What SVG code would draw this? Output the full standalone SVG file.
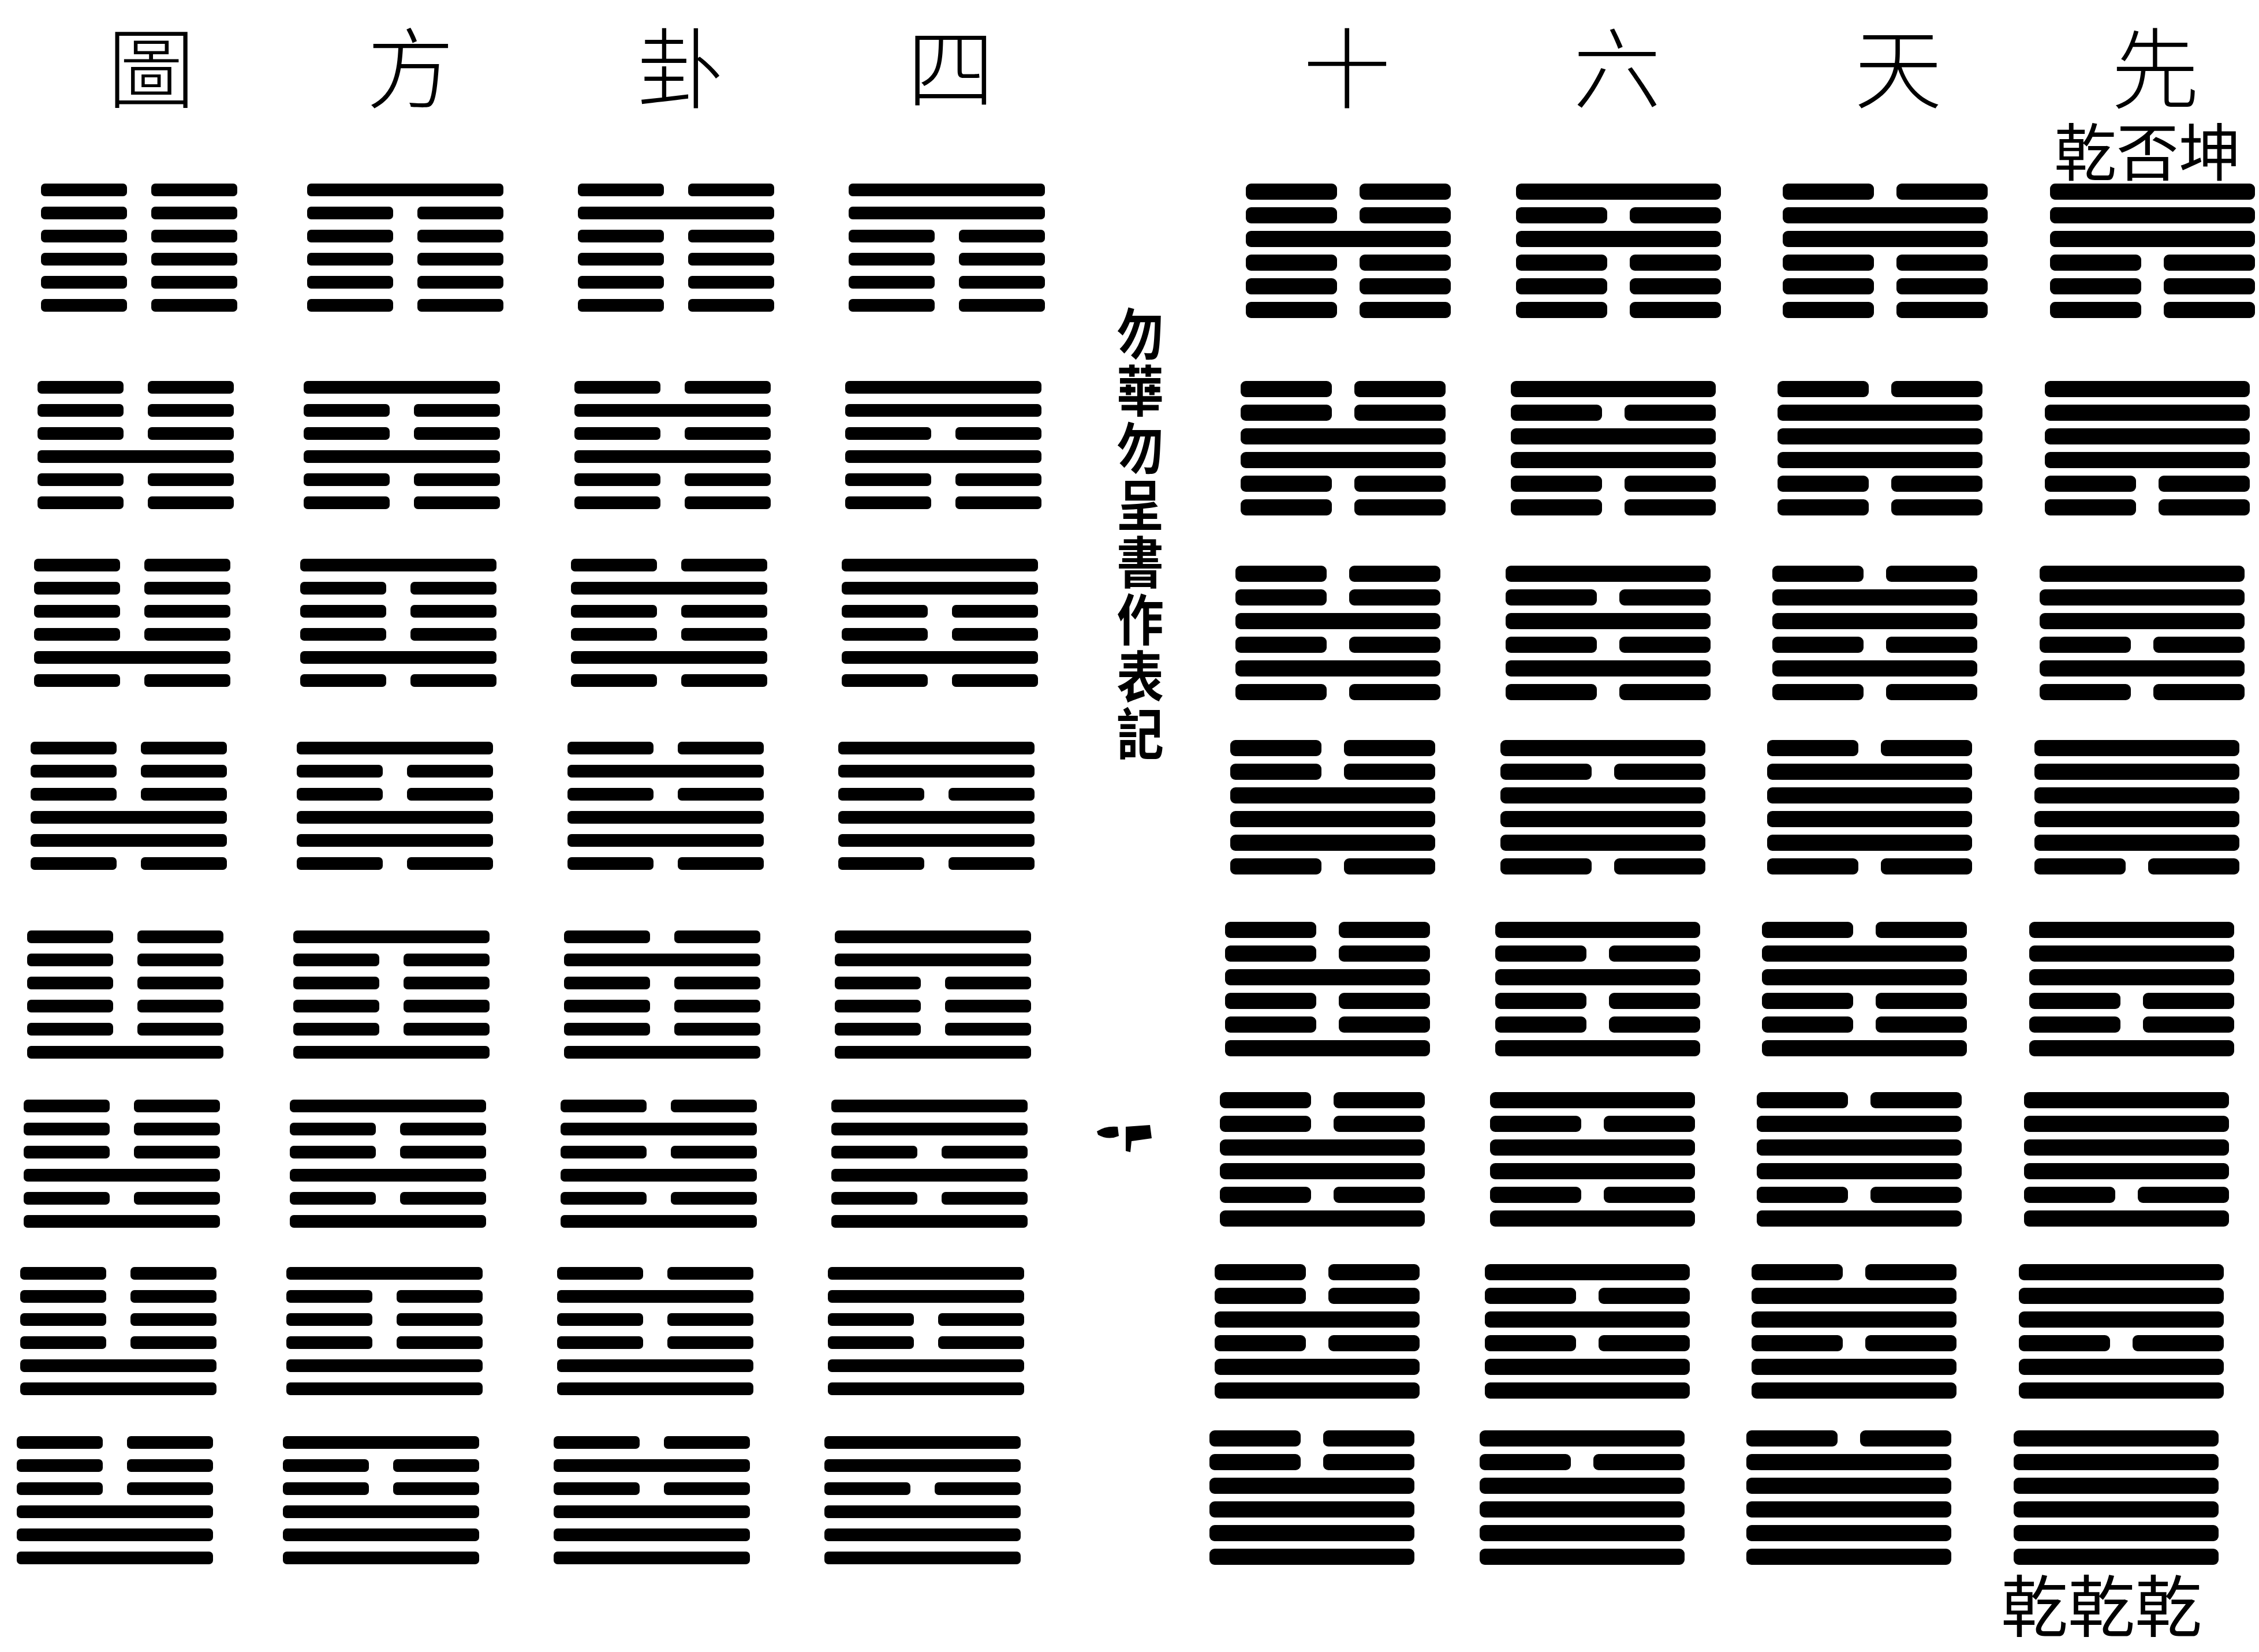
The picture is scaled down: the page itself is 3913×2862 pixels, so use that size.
<svg xmlns="http://www.w3.org/2000/svg" width="3913" height="2862" viewBox="0 0 3913 2862">
<style>
rect,path{fill:#000}
.t{font-family:"Noto Sans CJK TC","Noto Sans CJK SC",sans-serif;font-size:152px;font-weight:300;text-anchor:middle;fill:#000}
.n{font-family:"Noto Sans CJK TC","Noto Sans CJK SC",sans-serif;font-size:108px;font-weight:400;text-anchor:middle;fill:#000}
.v{font-family:"Noto Sans CJK TC","Noto Sans CJK SC",sans-serif;font-size:96px;font-weight:700;writing-mode:vertical-rl;letter-spacing:3px;fill:#000}
</style>
<defs>
<rect id="ly" width="340" height="22" rx="7"/>
<g id="ln"><rect width="149" height="22" rx="7"/><rect x="191" width="149" height="22" rx="7"/></g>
<g id="Lkun"><use href="#ln"/><use href="#ln" y="40"/><use href="#ln" y="80"/></g>
<g id="Lgen"><use href="#ly"/><use href="#ln" y="40"/><use href="#ln" y="80"/></g>
<g id="Lkan"><use href="#ln"/><use href="#ly" y="40"/><use href="#ln" y="80"/></g>
<g id="Lxun"><use href="#ly"/><use href="#ly" y="40"/><use href="#ln" y="80"/></g>
<g id="Lzhen"><use href="#ln"/><use href="#ln" y="40"/><use href="#ly" y="80"/></g>
<g id="Lli"><use href="#ly"/><use href="#ln" y="40"/><use href="#ly" y="80"/></g>
<g id="Ldui"><use href="#ln"/><use href="#ly" y="40"/><use href="#ly" y="80"/></g>
<g id="Lqian"><use href="#ly"/><use href="#ly" y="40"/><use href="#ly" y="80"/></g>
<rect id="ry" width="355" height="28" rx="9"/>
<g id="rn"><rect width="158" height="28" rx="9"/><rect x="197" width="158" height="28" rx="9"/></g>
<g id="Rkun"><use href="#rn"/><use href="#rn" y="41"/><use href="#rn" y="82"/></g>
<g id="Rgen"><use href="#ry"/><use href="#rn" y="41"/><use href="#rn" y="82"/></g>
<g id="Rkan"><use href="#rn"/><use href="#ry" y="41"/><use href="#rn" y="82"/></g>
<g id="Rxun"><use href="#ry"/><use href="#ry" y="41"/><use href="#rn" y="82"/></g>
<g id="Rzhen"><use href="#rn"/><use href="#rn" y="41"/><use href="#ry" y="82"/></g>
<g id="Rli"><use href="#ry"/><use href="#rn" y="41"/><use href="#ry" y="82"/></g>
<g id="Rdui"><use href="#rn"/><use href="#ry" y="41"/><use href="#ry" y="82"/></g>
<g id="Rqian"><use href="#ry"/><use href="#ry" y="41"/><use href="#ry" y="82"/></g>
</defs>
<rect width="3913" height="2862" style="fill:#fff"/>
<g id="title">
<text class="t" x="262" y="176">圖</text>
<text class="t" x="711" y="176">方</text>
<text class="t" x="1179" y="176">卦</text>
<text class="t" x="1647" y="176">四</text>
<text class="t" x="2333" y="176">十</text>
<text class="t" x="2801" y="176">六</text>
<text class="t" x="3288" y="176">天</text>
<text class="t" x="3733" y="176">先</text>
</g>
<g id="note-top"><text class="n" x="3720" y="304">乾否坤</text></g>
<g id="note-bottom"><text class="n" x="3640" y="2826" style="font-size:116px">乾乾乾</text></g>
<g id="note-vertical">
<text class="v" transform="translate(1975,530) scale(0.85,1)" x="0" y="0">勿華勿呈書作表記</text>
</g>
<g id="marks"><path d="M1900 1960 Q1915 1950 1936 1952 L1938 1968 Q1920 1976 1902 1966 Z"/><path d="M1950 1952 L1992 1949 L1995 1972 L1960 1977 L1958 1996 L1950 1994 Z"/></g>
<g id="connectors"></g>
<g id="left-block">
<g id="hex-r1-c1" transform="translate(71,318)"><use href="#Lkun"/><use href="#Lkun" y="120"/></g>
<g id="hex-r1-c2" transform="translate(532,318)"><use href="#Lgen"/><use href="#Lkun" y="120"/></g>
<g id="hex-r1-c3" transform="translate(1001,318)"><use href="#Lkan"/><use href="#Lkun" y="120"/></g>
<g id="hex-r1-c4" transform="translate(1470,318)"><use href="#Lxun"/><use href="#Lkun" y="120"/></g>
<g id="hex-r2-c1" transform="translate(65,660)"><use href="#Lkun"/><use href="#Lgen" y="120"/></g>
<g id="hex-r2-c2" transform="translate(526,660)"><use href="#Lgen"/><use href="#Lgen" y="120"/></g>
<g id="hex-r2-c3" transform="translate(995,660)"><use href="#Lkan"/><use href="#Lgen" y="120"/></g>
<g id="hex-r2-c4" transform="translate(1464,660)"><use href="#Lxun"/><use href="#Lgen" y="120"/></g>
<g id="hex-r3-c1" transform="translate(59,968)"><use href="#Lkun"/><use href="#Lkan" y="120"/></g>
<g id="hex-r3-c2" transform="translate(520,968)"><use href="#Lgen"/><use href="#Lkan" y="120"/></g>
<g id="hex-r3-c3" transform="translate(989,968)"><use href="#Lkan"/><use href="#Lkan" y="120"/></g>
<g id="hex-r3-c4" transform="translate(1458,968)"><use href="#Lxun"/><use href="#Lkan" y="120"/></g>
<g id="hex-r4-c1" transform="translate(53,1285)"><use href="#Lkun"/><use href="#Lxun" y="120"/></g>
<g id="hex-r4-c2" transform="translate(514,1285)"><use href="#Lgen"/><use href="#Lxun" y="120"/></g>
<g id="hex-r4-c3" transform="translate(983,1285)"><use href="#Lkan"/><use href="#Lxun" y="120"/></g>
<g id="hex-r4-c4" transform="translate(1452,1285)"><use href="#Lxun"/><use href="#Lxun" y="120"/></g>
<g id="hex-r5-c1" transform="translate(47,1612)"><use href="#Lkun"/><use href="#Lzhen" y="120"/></g>
<g id="hex-r5-c2" transform="translate(508,1612)"><use href="#Lgen"/><use href="#Lzhen" y="120"/></g>
<g id="hex-r5-c3" transform="translate(977,1612)"><use href="#Lkan"/><use href="#Lzhen" y="120"/></g>
<g id="hex-r5-c4" transform="translate(1446,1612)"><use href="#Lxun"/><use href="#Lzhen" y="120"/></g>
<g id="hex-r6-c1" transform="translate(41,1905)"><use href="#Lkun"/><use href="#Lli" y="120"/></g>
<g id="hex-r6-c2" transform="translate(502,1905)"><use href="#Lgen"/><use href="#Lli" y="120"/></g>
<g id="hex-r6-c3" transform="translate(971,1905)"><use href="#Lkan"/><use href="#Lli" y="120"/></g>
<g id="hex-r6-c4" transform="translate(1440,1905)"><use href="#Lxun"/><use href="#Lli" y="120"/></g>
<g id="hex-r7-c1" transform="translate(35,2195)"><use href="#Lkun"/><use href="#Ldui" y="120"/></g>
<g id="hex-r7-c2" transform="translate(496,2195)"><use href="#Lgen"/><use href="#Ldui" y="120"/></g>
<g id="hex-r7-c3" transform="translate(965,2195)"><use href="#Lkan"/><use href="#Ldui" y="120"/></g>
<g id="hex-r7-c4" transform="translate(1434,2195)"><use href="#Lxun"/><use href="#Ldui" y="120"/></g>
<g id="hex-r8-c1" transform="translate(29,2488)"><use href="#Lkun"/><use href="#Lqian" y="120"/></g>
<g id="hex-r8-c2" transform="translate(490,2488)"><use href="#Lgen"/><use href="#Lqian" y="120"/></g>
<g id="hex-r8-c3" transform="translate(959,2488)"><use href="#Lkan"/><use href="#Lqian" y="120"/></g>
<g id="hex-r8-c4" transform="translate(1428,2488)"><use href="#Lxun"/><use href="#Lqian" y="120"/></g>
</g>
<g id="right-block">
<g id="hex-r1-c5" transform="translate(2158,318)"><use href="#Rzhen"/><use href="#Rkun" y="123"/></g>
<g id="hex-r1-c6" transform="translate(2626,318)"><use href="#Rli"/><use href="#Rkun" y="123"/></g>
<g id="hex-r1-c7" transform="translate(3088,318)"><use href="#Rdui"/><use href="#Rkun" y="123"/></g>
<g id="hex-r1-c8" transform="translate(3551,318)"><use href="#Rqian"/><use href="#Rkun" y="123"/></g>
<g id="hex-r2-c5" transform="translate(2149,660)"><use href="#Rzhen"/><use href="#Rgen" y="123"/></g>
<g id="hex-r2-c6" transform="translate(2617,660)"><use href="#Rli"/><use href="#Rgen" y="123"/></g>
<g id="hex-r2-c7" transform="translate(3079,660)"><use href="#Rdui"/><use href="#Rgen" y="123"/></g>
<g id="hex-r2-c8" transform="translate(3542,660)"><use href="#Rqian"/><use href="#Rgen" y="123"/></g>
<g id="hex-r3-c5" transform="translate(2140,980)"><use href="#Rzhen"/><use href="#Rkan" y="123"/></g>
<g id="hex-r3-c6" transform="translate(2608,980)"><use href="#Rli"/><use href="#Rkan" y="123"/></g>
<g id="hex-r3-c7" transform="translate(3070,980)"><use href="#Rdui"/><use href="#Rkan" y="123"/></g>
<g id="hex-r3-c8" transform="translate(3533,980)"><use href="#Rqian"/><use href="#Rkan" y="123"/></g>
<g id="hex-r4-c5" transform="translate(2131,1282)"><use href="#Rzhen"/><use href="#Rxun" y="123"/></g>
<g id="hex-r4-c6" transform="translate(2599,1282)"><use href="#Rli"/><use href="#Rxun" y="123"/></g>
<g id="hex-r4-c7" transform="translate(3061,1282)"><use href="#Rdui"/><use href="#Rxun" y="123"/></g>
<g id="hex-r4-c8" transform="translate(3524,1282)"><use href="#Rqian"/><use href="#Rxun" y="123"/></g>
<g id="hex-r5-c5" transform="translate(2122,1597)"><use href="#Rzhen"/><use href="#Rzhen" y="123"/></g>
<g id="hex-r5-c6" transform="translate(2590,1597)"><use href="#Rli"/><use href="#Rzhen" y="123"/></g>
<g id="hex-r5-c7" transform="translate(3052,1597)"><use href="#Rdui"/><use href="#Rzhen" y="123"/></g>
<g id="hex-r5-c8" transform="translate(3515,1597)"><use href="#Rqian"/><use href="#Rzhen" y="123"/></g>
<g id="hex-r6-c5" transform="translate(2113,1892)"><use href="#Rzhen"/><use href="#Rli" y="123"/></g>
<g id="hex-r6-c6" transform="translate(2581,1892)"><use href="#Rli"/><use href="#Rli" y="123"/></g>
<g id="hex-r6-c7" transform="translate(3043,1892)"><use href="#Rdui"/><use href="#Rli" y="123"/></g>
<g id="hex-r6-c8" transform="translate(3506,1892)"><use href="#Rqian"/><use href="#Rli" y="123"/></g>
<g id="hex-r7-c5" transform="translate(2104,2190)"><use href="#Rzhen"/><use href="#Rdui" y="123"/></g>
<g id="hex-r7-c6" transform="translate(2572,2190)"><use href="#Rli"/><use href="#Rdui" y="123"/></g>
<g id="hex-r7-c7" transform="translate(3034,2190)"><use href="#Rdui"/><use href="#Rdui" y="123"/></g>
<g id="hex-r7-c8" transform="translate(3497,2190)"><use href="#Rqian"/><use href="#Rdui" y="123"/></g>
<g id="hex-r8-c5" transform="translate(2095,2478)"><use href="#Rzhen"/><use href="#Rqian" y="123"/></g>
<g id="hex-r8-c6" transform="translate(2563,2478)"><use href="#Rli"/><use href="#Rqian" y="123"/></g>
<g id="hex-r8-c7" transform="translate(3025,2478)"><use href="#Rdui"/><use href="#Rqian" y="123"/></g>
<g id="hex-r8-c8" transform="translate(3488,2478)"><use href="#Rqian"/><use href="#Rqian" y="123"/></g>
</g>
</svg>
